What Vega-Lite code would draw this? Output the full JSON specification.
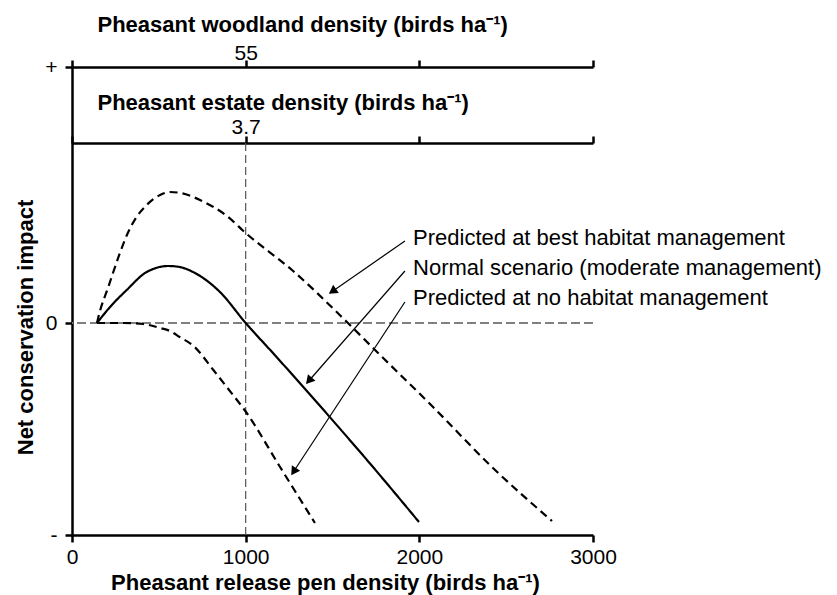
{
  "$schema": "https://vega.github.io/schema/vega-lite/v6.json",
  "width": 521,
  "height": 468,
  "autosize": {"type": "none"},
  "padding": {"left": 72, "top": 67, "right": 244, "bottom": 60},
  "background": "white",
  "config": {
    "view": {"stroke": null},
    "axis": {
      "grid": false,
      "domainColor": "#000",
      "domainWidth": 2.5,
      "tickColor": "#000",
      "tickWidth": 2.5,
      "tickSize": 7,
      "labelColor": "#000",
      "labelFont": "Liberation Sans",
      "labelFontSize": 21,
      "labelFlush": false,
      "labelOverlap": false,
      "titleColor": "#000",
      "titleFont": "Liberation Sans",
      "titleFontSize": 22,
      "titleFontWeight": "bold"
    }
  },
  "datasets": {
    "curves": [
      {"scenario": "best", "x": 144, "y": 0},
      {"scenario": "best", "x": 152, "y": 6},
      {"scenario": "best", "x": 209, "y": 36},
      {"scenario": "best", "x": 276, "y": 70},
      {"scenario": "best", "x": 324, "y": 91},
      {"scenario": "best", "x": 372, "y": 106},
      {"scenario": "best", "x": 430, "y": 118},
      {"scenario": "best", "x": 507, "y": 128},
      {"scenario": "best", "x": 564, "y": 131},
      {"scenario": "best", "x": 650, "y": 129},
      {"scenario": "best", "x": 737, "y": 123},
      {"scenario": "best", "x": 892, "y": 107},
      {"scenario": "best", "x": 1000, "y": 90},
      {"scenario": "best", "x": 1273, "y": 52},
      {"scenario": "best", "x": 1583, "y": 1},
      {"scenario": "best", "x": 1745, "y": -27},
      {"scenario": "best", "x": 2079, "y": -84},
      {"scenario": "best", "x": 2424, "y": -145},
      {"scenario": "best", "x": 2764, "y": -198},
      {"scenario": "normal", "x": 144, "y": 0},
      {"scenario": "normal", "x": 219, "y": 16},
      {"scenario": "normal", "x": 315, "y": 33},
      {"scenario": "normal", "x": 430, "y": 51},
      {"scenario": "normal", "x": 555, "y": 57},
      {"scenario": "normal", "x": 620, "y": 56},
      {"scenario": "normal", "x": 697, "y": 51},
      {"scenario": "normal", "x": 852, "y": 31},
      {"scenario": "normal", "x": 1000, "y": 0},
      {"scenario": "normal", "x": 1157, "y": -30},
      {"scenario": "normal", "x": 1474, "y": -92},
      {"scenario": "normal", "x": 1733, "y": -144},
      {"scenario": "normal", "x": 1998, "y": -199},
      {"scenario": "none", "x": 144, "y": 0},
      {"scenario": "none", "x": 300, "y": 0},
      {"scenario": "none", "x": 409, "y": -1},
      {"scenario": "none", "x": 507, "y": -5},
      {"scenario": "none", "x": 564, "y": -8},
      {"scenario": "none", "x": 620, "y": -14},
      {"scenario": "none", "x": 700, "y": -23},
      {"scenario": "none", "x": 814, "y": -47},
      {"scenario": "none", "x": 900, "y": -66},
      {"scenario": "none", "x": 1002, "y": -89},
      {"scenario": "none", "x": 1198, "y": -144},
      {"scenario": "none", "x": 1399, "y": -200}
    ],
    "labels": [
      {"x": 1964, "y": 78, "text": "Predicted at best habitat management"},
      {"x": 1964, "y": 48, "text": "Normal scenario (moderate management)"},
      {"x": 1964, "y": 18, "text": "Predicted at no habitat management"}
    ],
    "arrows": [
      {"id": "best", "x": 1917, "y": 82, "x2": 1486, "y2": 30},
      {"id": "normal", "x": 1917, "y": 52, "x2": 1353, "y2": -60},
      {"id": "none", "x": 1917, "y": 21, "x2": 1267, "y2": -151}
    ],
    "refs": [
      {"xref": 1000, "ylow": -212, "yhigh": 180, "yzero": 0}
    ]
  },
  "resolve": {"axis": {"x": "independent", "y": "independent"}},
  "layer": [
    {
      "data": {"name": "refs"},
      "mark": {"type": "rule", "color": "#808080", "strokeWidth": 1.8, "strokeDash": [9, 4]},
      "encoding": {
        "y": {"field": "yzero", "type": "quantitative", "scale": {"domain": [-212, 256], "nice": false, "zero": false}, "axis": null}
      }
    },
    {
      "data": {"name": "refs"},
      "mark": {"type": "rule", "color": "#555555", "strokeWidth": 1.2, "strokeDash": [8, 4]},
      "encoding": {
        "x": {
          "field": "xref", "type": "quantitative",
          "scale": {"domain": [0, 3000], "nice": false, "zero": false},
          "axis": {
            "orient": "top",
            "values": [0, 1000, 2000, 3000],
            "labelExpr": "datum.value == 1000 ? '55' : ''",
            "labelBaseline": "alphabetic",
            "labelPadding": 1,
            "title": "Pheasant woodland density (birds ha⁻¹)",
            "titleX": 25,
            "titleY": -36,
            "titleAlign": "left",
            "titleBaseline": "alphabetic"
          }
        },
        "y": {"field": "ylow", "type": "quantitative", "scale": {"domain": [-212, 256], "nice": false, "zero": false}, "axis": null},
        "y2": {"field": "yhigh"}
      }
    },
    {
      "data": {"name": "curves"},
      "mark": {"type": "line", "color": "#000", "strokeWidth": 2.2, "interpolate": "monotone"},
      "encoding": {
        "x": {
          "field": "x", "type": "quantitative",
          "scale": {"domain": [0, 3000], "nice": false, "zero": false},
          "axis": {
            "orient": "bottom",
            "values": [0, 1000, 2000, 3000],
            "format": "d",
            "labelBaseline": "alphabetic",
            "labelPadding": 21,
            "title": "Pheasant release pen density (birds ha⁻¹)",
            "titleX": 253,
            "titleY": 54,
            "titleAlign": "center",
            "titleBaseline": "alphabetic"
          }
        },
        "y": {
          "field": "y", "type": "quantitative",
          "scale": {"domain": [-212, 256], "nice": false, "zero": false},
          "axis": {
            "orient": "left",
            "values": [-212, 0, 256],
            "labelExpr": "datum.value > 0 ? '+' : (datum.value < 0 ? '-' : '0')",
            "labelPadding": 8,
            "title": "Net conservation impact",
            "titleAngle": 270,
            "titleX": -40,
            "titleY": 260,
            "titleAlign": "center",
            "titleBaseline": "alphabetic"
          }
        },
        "strokeDash": {
          "field": "scenario", "type": "nominal",
          "scale": {"domain": ["best", "normal", "none"], "range": [[8, 5], [1, 0], [8, 5]]},
          "legend": null
        }
      }
    },
    {
      "data": {"name": "arrows"},
      "mark": {"type": "rule", "color": "#000", "strokeWidth": 1.2},
      "encoding": {
        "x": {
          "field": "x", "type": "quantitative",
          "scale": {"domain": [0, 3000], "nice": false, "zero": false},
          "axis": {
            "orient": "top",
            "offset": -76,
            "values": [0, 1000, 2000, 3000],
            "labelExpr": "datum.value == 1000 ? '3.7' : ''",
            "labelBaseline": "alphabetic",
            "labelPadding": 3,
            "title": "Pheasant estate density (birds ha⁻¹)",
            "titleX": 25,
            "titleY": -34,
            "titleAlign": "left",
            "titleBaseline": "alphabetic"
          }
        },
        "y": {"field": "y", "type": "quantitative", "scale": {"domain": [-212, 256], "nice": false, "zero": false}, "axis": null},
        "x2": {"field": "x2"},
        "y2": {"field": "y2"}
      }
    },
    {
      "data": {"name": "arrows"},
      "transform": [{"filter": "datum.id == 'best'"}],
      "mark": {"type": "point", "shape": "triangle", "filled": true, "color": "#000", "opacity": 1, "size": 100, "angle": 235.3, "xOffset": 3.56, "yOffset": -2.47},
      "encoding": {
        "x": {"field": "x2", "type": "quantitative", "scale": {"domain": [0, 3000], "nice": false, "zero": false}, "axis": null},
        "y": {"field": "y2", "type": "quantitative", "scale": {"domain": [-212, 256], "nice": false, "zero": false}, "axis": null}
      }
    },
    {
      "data": {"name": "arrows"},
      "transform": [{"filter": "datum.id == 'normal'"}],
      "mark": {"type": "point", "shape": "triangle", "filled": true, "color": "#000", "opacity": 1, "size": 100, "angle": 221.2, "xOffset": 2.85, "yOffset": -3.26},
      "encoding": {
        "x": {"field": "x2", "type": "quantitative", "scale": {"domain": [0, 3000], "nice": false, "zero": false}, "axis": null},
        "y": {"field": "y2", "type": "quantitative", "scale": {"domain": [-212, 256], "nice": false, "zero": false}, "axis": null}
      }
    },
    {
      "data": {"name": "arrows"},
      "transform": [{"filter": "datum.id == 'none'"}],
      "mark": {"type": "point", "shape": "triangle", "filled": true, "color": "#000", "opacity": 1, "size": 100, "angle": 213.3, "xOffset": 2.38, "yOffset": -3.62},
      "encoding": {
        "x": {"field": "x2", "type": "quantitative", "scale": {"domain": [0, 3000], "nice": false, "zero": false}, "axis": null},
        "y": {"field": "y2", "type": "quantitative", "scale": {"domain": [-212, 256], "nice": false, "zero": false}, "axis": null}
      }
    },
    {
      "data": {"name": "labels"},
      "mark": {"type": "text", "align": "left", "baseline": "alphabetic", "font": "Liberation Sans", "fontSize": 22, "color": "#000"},
      "encoding": {
        "x": {"field": "x", "type": "quantitative", "scale": {"domain": [0, 3000], "nice": false, "zero": false}, "axis": null},
        "y": {"field": "y", "type": "quantitative", "scale": {"domain": [-212, 256], "nice": false, "zero": false}, "axis": null},
        "text": {"field": "text"}
      }
    }
  ]
}
